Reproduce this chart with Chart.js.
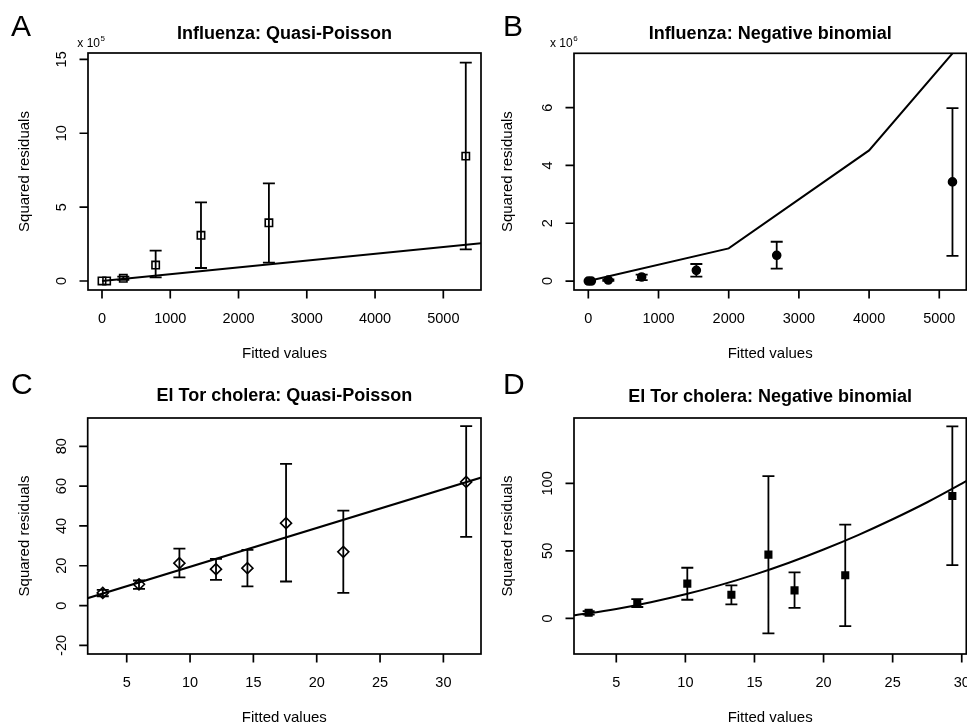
<!DOCTYPE html>
<html>
<head>
<meta charset="utf-8">
<title>Squared residuals vs fitted values</title>
<script src="https://cdn.jsdelivr.net/npm/chart.js@4.4.1/dist/chart.umd.min.js"></script>
<style>
  html, body { margin: 0; padding: 0; background: #fff; overflow: hidden; }
  #wrap { position: relative; width: 967px; height: 726px; overflow: hidden; }
  canvas { position: absolute; }
</style>
</head>
<body>
<div id="wrap">
  <canvas id="panelA" width="484" height="363" style="left:0;top:0"></canvas>
  <canvas id="panelB" width="484" height="363" style="left:483px;top:0"></canvas>
  <canvas id="panelC" width="484" height="363" style="left:0;top:363px"></canvas>
  <canvas id="panelD" width="490" height="363" style="left:483px;top:363px"></canvas>
</div>
<script>
// ---- data ----

// A: Influenza, quasi-Poisson (y in units of 10^5)
const fluQpX  = [0, 68, 312, 786, 1450, 2445, 5329];
const fluQpY  = [0, 0, 0.18, 1.08, 3.09, 3.94, 8.45];
const fluQpLo = [null, null, 0.08, 0.25, 0.88, 1.24, 2.14];
const fluQpHi = [null, null, 0.30, 2.05, 5.32, 6.60, 14.78];
const fluQpLineX = [0, 5600];
const fluQpLineY = [0, 2.58];
const fluQpXTicks = [0, 1000, 2000, 3000, 4000, 5000];
const fluQpYTicks = [0, 5, 10, 15];

// B: Influenza, negative binomial (y in units of 10^6)
const fluNbX  = [0, 43, 285, 760, 1539, 2684, 5188];
const fluNbY  = [0, 0, 0.035, 0.14, 0.37, 0.89, 3.43];
const fluNbLo = [null, null, 0.01, 0.035, 0.15, 0.43, 0.87];
const fluNbHi = [null, null, 0.06, 0.22, 0.59, 1.36, 5.98];
const fluNbLineX = [0, 2000, 4000, 6000];
const fluNbLineY = [0, 1.13, 4.52, 10.17];
const fluNbXTicks = [0, 1000, 2000, 3000, 4000, 5000];
const fluNbYTicks = [0, 2, 4, 6];

// C: El Tor cholera, quasi-Poisson
const choQpX  = [3.11, 5.97, 9.16, 12.05, 14.53, 17.58, 22.1, 31.8];
const choQpY  = [6.37, 10.7, 21.3, 18.3, 18.8, 41.4, 27.0, 62.1];
const choQpLo = [4.7, 8.4, 14.2, 12.9, 9.7, 12.1, 6.4, 34.5];
const choQpHi = [7.9, 12.6, 28.6, 23.5, 28.0, 71.2, 47.7, 90.1];
const choQpLineX = [0, 35];
const choQpLineY = [0, 68.2];
const choQpXTicks = [5, 10, 15, 20, 25, 30];
const choQpYTicks = [-20, 0, 20, 40, 60, 80];

// D: El Tor cholera, negative binomial
const choNbX  = [3.0, 6.52, 10.14, 13.33, 16.01, 17.9, 21.57, 29.32];
const choNbY  = [4.2, 11.4, 25.7, 17.5, 47.2, 20.7, 31.9, 90.6];
const choNbLo = [2.7, 8.4, 13.8, 10.4, -11.1, 7.7, -5.7, 39.5];
const choNbHi = [5.4, 14.3, 37.5, 24.4, 105.4, 34.1, 69.4, 142.2];
const choNbLineX = [1.5, 3, 5, 7.5, 10, 12.5, 15, 17.5, 20, 22.5, 25, 27.5, 30, 31];
const choNbLineY = [1.7, 3.7, 6.9, 11.9, 17.8, 24.6, 32.4, 41.2, 51.0, 61.7, 73.4, 86.0, 99.8, 105.5];
const choNbXTicks = [5, 10, 15, 20, 25, 30];
const choNbYTicks = [0, 50, 100];

const FONT = '"Liberation Sans", Arial, Helvetica, sans-serif';
const toXY = (xs, ys) => xs.map((x, i) => ({ x, y: ys[i] }));

// R-style frame: box, outward ticks, rotated y labels, error bars, titles
const rFrame = {
    id: 'rFrame',
    afterDatasetsDraw(chart, args, o) {
        const { ctx, scales: { x, y } } = chart;
        ctx.save();
        ctx.strokeStyle = '#000';
        ctx.lineWidth = 1.8;
        ctx.beginPath();
        o.errX.forEach((v, i) => {
            if (o.errLo[i] === null) return;
            const px = x.getPixelForValue(v);
            const lo = y.getPixelForValue(o.errLo[i]);
            const hi = y.getPixelForValue(o.errHi[i]);
            ctx.moveTo(px, lo); ctx.lineTo(px, hi);
            ctx.moveTo(px - 6, lo); ctx.lineTo(px + 6, lo);
            ctx.moveTo(px - 6, hi); ctx.lineTo(px + 6, hi);
        });
        ctx.stroke();
        ctx.restore();
    },
    afterDraw(chart, args, o) {
        const { ctx, chartArea: a, scales: { x, y } } = chart;
        const cx = (a.left + a.right) / 2;
        ctx.save();
        ctx.strokeStyle = '#000';
        ctx.fillStyle = '#000';
        ctx.lineWidth = 1.7;
        ctx.strokeRect(a.left, a.top, a.width, a.height);

        ctx.beginPath();
        o.xTicks.forEach(v => {
            const px = x.getPixelForValue(v);
            ctx.moveTo(px, a.bottom); ctx.lineTo(px, a.bottom + 8.5);
        });
        o.yTicks.forEach(v => {
            const py = y.getPixelForValue(v);
            ctx.moveTo(a.left, py); ctx.lineTo(a.left - 8.5, py);
        });
        ctx.stroke();

        ctx.font = `14.5px ${FONT}`;
        ctx.textAlign = 'center';
        ctx.textBaseline = 'alphabetic';
        o.xTicks.forEach(v => ctx.fillText(String(v), x.getPixelForValue(v), a.bottom + 33));
        o.yTicks.forEach(v => {
            ctx.save();
            ctx.translate(a.left - 22, y.getPixelForValue(v));
            ctx.rotate(-Math.PI / 2);
            ctx.fillText(String(v), 0, 0);
            ctx.restore();
        });

        ctx.font = `15px ${FONT}`;
        ctx.fillText(o.xLabel, cx, a.bottom + 68);
        ctx.save();
        ctx.translate(29.3, (a.top + a.bottom) / 2);
        ctx.rotate(-Math.PI / 2);
        ctx.fillText(o.yLabel, 0, 0);
        ctx.restore();

        ctx.font = `bold 18px ${FONT}`;
        ctx.fillText(o.title, cx, o.titleY);

        ctx.textAlign = 'left';
        ctx.font = `30px ${FONT}`;
        ctx.fillText(o.letter, o.letterX, o.letterY);

        if (o.exponent) {
            ctx.font = `12px ${FONT}`;
            ctx.fillText('x 10', o.expX, 46.7);
            const w = ctx.measureText('x 10').width;
            ctx.font = `8px ${FONT}`;
            ctx.fillText(o.exponent, o.expX + w + 0.5, 41);
        }
        ctx.restore();
    }
};

function makePanel(p) {
    new Chart(document.getElementById(p.id), {
        type: 'scatter',
        data: {
            datasets: [
                {
                    type: 'line',
                    data: toXY(p.lineX, p.lineY),
                    borderColor: '#000',
                    borderWidth: 2,
                    pointRadius: 0,
                    fill: false,
                    cubicInterpolationMode: p.smooth ? 'monotone' : 'default',
                    tension: 0
                },
                {
                    data: toXY(p.xs, p.ys),
                    pointStyle: p.marker,
                    pointRadius: p.radius,
                    pointBorderWidth: 1.6,
                    pointBorderColor: '#000',
                    pointBackgroundColor: p.filled ? '#000' : 'rgba(0,0,0,0)',
                    showLine: false
                }
            ]
        },
        options: {
            responsive: false,
            animation: false,
            events: [],
            layout: { padding: p.pad, autoPadding: false },
            plugins: {
                legend: { display: false },
                tooltip: { enabled: false },
                rFrame: {
                    errX: p.xs, errLo: p.lo, errHi: p.hi,
                    xTicks: p.xTicks, yTicks: p.yTicks,
                    title: p.title, titleY: p.titleY,
                    letter: p.letter, letterX: p.letterX, letterY: p.letterY,
                    xLabel: 'Fitted values', yLabel: 'Squared residuals',
                    exponent: p.exponent, expX: p.expX
                }
            },
            scales: {
                x: { type: 'linear', display: false, min: p.xRange[0], max: p.xRange[1] },
                y: { type: 'linear', display: false, min: p.yRange[0], max: p.yRange[1] }
            }
        },
        plugins: [rFrame]
    });
}

makePanel({
    id: 'panelA', letter: 'A', letterX: 11, letterY: 36,
    title: 'Influenza: Quasi-Poisson', titleY: 38.5,
    exponent: '5', expX: 77.3,
    xs: fluQpX, ys: fluQpY, lo: fluQpLo, hi: fluQpHi,
    lineX: fluQpLineX, lineY: fluQpLineY,
    xTicks: fluQpXTicks, yTicks: fluQpYTicks,
    xRange: [-205, 5552], yRange: [-0.61, 15.43],
    marker: 'rect', radius: 5.2, filled: false,
    pad: { left: 88, top: 53, right: 3, bottom: 73 }
});

makePanel({
    id: 'panelB', letter: 'B', letterX: 20, letterY: 36,
    title: 'Influenza: Negative binomial', titleY: 39.3,
    exponent: '6', expX: 67,
    xs: fluNbX, ys: fluNbY, lo: fluNbLo, hi: fluNbHi,
    lineX: fluNbLineX, lineY: fluNbLineY,
    xTicks: fluNbXTicks, yTicks: fluNbYTicks,
    xRange: [-204, 5385], yRange: [-0.31, 7.88],
    marker: 'circle', radius: 4, filled: true,
    pad: { left: 91, top: 53.3, right: 0.7, bottom: 73 }
});

makePanel({
    id: 'panelC', letter: 'C', letterX: 11, letterY: 30.7,
    title: 'El Tor cholera: Quasi-Poisson', titleY: 37.7,
    xs: choQpX, ys: choQpY, lo: choQpLo, hi: choQpHi,
    lineX: choQpLineX, lineY: choQpLineY,
    xTicks: choQpXTicks, yTicks: choQpYTicks,
    xRange: [1.92, 32.97], yRange: [-24.3, 94.2],
    marker: 'rectRot', radius: 5.5, filled: false,
    pad: { left: 87.7, top: 55, right: 3, bottom: 72 }
});

makePanel({
    id: 'panelD', letter: 'D', letterX: 20, letterY: 30.7,
    title: 'El Tor cholera: Negative binomial', titleY: 39.3,
    xs: choNbX, ys: choNbY, lo: choNbLo, hi: choNbHi,
    lineX: choNbLineX, lineY: choNbLineY, smooth: true,
    xTicks: choNbXTicks, yTicks: choNbYTicks,
    xRange: [1.94, 30.33], yRange: [-26.4, 148.4],
    marker: 'rect', radius: 4.6, filled: true,
    pad: { left: 91, top: 55, right: 6.7, bottom: 72 }
});
</script>
</body>
</html>
